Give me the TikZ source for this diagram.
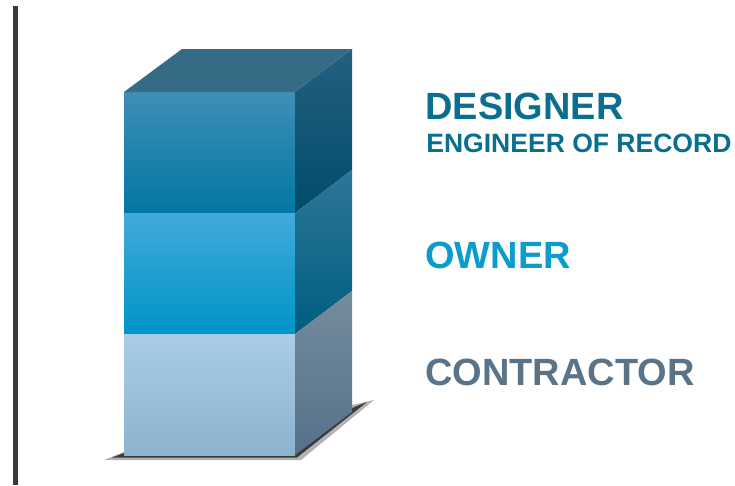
\documentclass[tikz,border=0pt]{standalone}
\usepackage{fontspec}
\setmainfont{Liberation Sans}
\definecolor{designerC}{HTML}{0A6F8F}
\definecolor{ownerC}{HTML}{0A9CCD}
\definecolor{contractorC}{HTML}{5B7386}
\definecolor{boxTop}{HTML}{366B85}
\definecolor{railC}{HTML}{3B3B3B}
\begin{document}
\begin{tikzpicture}[x=0.02cm, y=-0.02cm,
  role/.style={anchor=base west, inner sep=0pt, font=\bfseries\fontsize{21.6}{25}\selectfont},
  subrole/.style={anchor=base west, inner sep=0pt, font=\bfseries\fontsize{15.1}{18}\selectfont}]
 \useasboundingbox[fill=white] (0,0) rectangle (735,485);
 \draw[railC, line width=2.8pt] (15.5,6) -- (15.5,485);
 % shadow under the stack
 \fill[black, opacity=.3] (104,460) -- (301,460) -- (374,400) -- (352,405) -- (295,452) -- (124,452) -- cycle;
 \fill[black!85, opacity=.85] (112,457.5) -- (297,457.5) -- (367,402) -- (352,408) -- (295,453) -- (124,453) -- cycle;
 % layers: top edge / front colours / side colours
 \foreach \y/\fa/\fb/\sa/\sb in {92/3F8FB6/0077A3/24607E/004C6B,
                                213/42AADA/0094C7/2D7697/005E7F,
                                334/A9CDE5/8CB3CF/758C9D/55718A}{
  \definecolor{fa}{HTML}{\fa}\definecolor{fb}{HTML}{\fb}
  \definecolor{sa}{HTML}{\sa}\definecolor{sb}{HTML}{\sb}
  \shade[top color=fa, bottom color=fb] (124,\y) rectangle (295,\y+121);
  \shade[top color=sa, bottom color=sb] (295,\y) -- (352,\y-43) -- (352,\y+78) -- (295,\y+121) -- cycle;
 }
 \fill[boxTop] (124,92) -- (182,49) -- (352,49) -- (295,92) -- cycle;
 % labels
 \node[role, designerC] (designer) at (425,119) {DESIGNER};
 \node[subrole, designerC] (eor) at (426,152) {ENGINEER OF RECORD};
 \node[role, ownerC] (owner) at (425,268) {OWNER};
 \node[role, contractorC] (contractor) at (425,385) {CONTRACTOR};
\end{tikzpicture}
\end{document}
